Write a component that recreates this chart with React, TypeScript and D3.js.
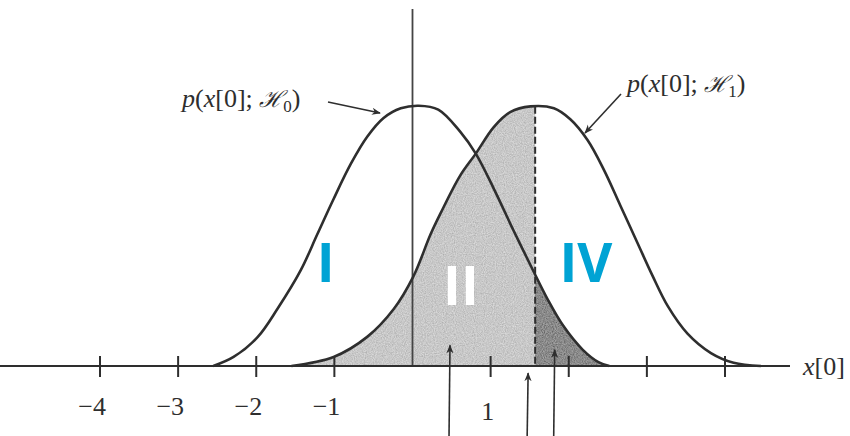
import React from "react";
import * as d3 from "d3";

// Density curves, sampled as [x[0], p] pairs
const h0Curve: [number, number][] = [
  [-2.55, 0], [-2.29, 0.014], [-1.98, 0.045], [-1.73, 0.088], [-1.43, 0.148],
  [-1.22, 0.203], [-1.01, 0.258], [-0.79, 0.312], [-0.58, 0.354], [-0.37, 0.383],
  [-0.15, 0.398], [0.08, 0.402], [0.33, 0.396], [0.61, 0.362], [0.81, 0.328],
  [1.04, 0.274], [1.29, 0.21], [1.55, 0.146], [1.73, 0.103], [1.93, 0.062],
  [2.18, 0.025], [2.38, 0.006], [2.52, 0],
];

const h1Curve: [number, number][] = [
  [-1.55, 0], [-1.01, 0.014], [-0.58, 0.045], [-0.24, 0.088], [0.01, 0.138],
  [0.23, 0.203], [0.36, 0.236], [0.61, 0.294], [0.81, 0.328], [1.04, 0.369],
  [1.25, 0.392], [1.51, 0.401], [1.81, 0.398], [2.02, 0.381], [2.24, 0.349],
  [2.45, 0.303], [2.66, 0.248], [2.88, 0.19], [3.07, 0.14], [3.27, 0.092],
  [3.52, 0.05], [3.82, 0.02], [4.11, 0.005], [4.46, 0],
];

const threshold = 1.57;

const tickValues = [-4, -3, -2, -1, 1, 2, 3, 4];
const tickLabelValues = [-4, -3, -2, -1, 1];
const tickLabelTexts = ["−4", "−3", "−2", "−1", "1"];

// Pointer arrows rising from below the axis: [x, tip height]
const pointerArrows: [number, number][] = [
  [0.48, 0.032],
  [1.48, -0.011],
  [1.82, 0.025],
];

const regionLabels = ["I", "II", "IV"];
const regionLabelX = [-1.11, 0.62, 2.22];
const regionLabelY = [0.129, 0.094, 0.129];
const regionLabelColors = ["#00a3d4", "#ffffff", "#00a3d4"];

const W = 850;
const H = 436;

export default function App() {
  const x = d3.scaleLinear().domain([-4, 4]).range([100, 725]);
  const y = d3.scaleLinear().domain([0, 0.4]).range([366, 107]);

  const curve = d3.curveCatmullRom.alpha(0.5);

  const line = d3
    .line<[number, number]>()
    .x((d) => x(d[0]))
    .y((d) => y(d[1]))
    .curve(curve);

  const area = d3
    .area<[number, number]>()
    .x((d) => x(d[0]))
    .y0(y(0))
    .y1((d) => y(d[1]))
    .curve(curve);

  const xt = x(threshold);
  const h1Interp = d3.scaleLinear().domain(h1Curve.map((d) => d[0])).range(h1Curve.map((d) => d[1]));
  const thresholdTop = y(h1Interp(threshold));

  const ink = "#2e2e2e";
  const serif = "'Liberation Serif', 'DejaVu Serif', serif";

  return (
    <svg
      width={W}
      height={H}
      viewBox={`0 0 ${W} ${H}`}
      style={{ position: "absolute", left: 0, top: 0, background: "#fff" }}
    >
      <defs>
        <clipPath id="leftOfT">
          <rect x={0} y={0} width={xt} height={H} />
        </clipPath>
        <clipPath id="rightOfT">
          <rect x={xt} y={0} width={W - xt} height={H} />
        </clipPath>
        <filter id="grain" x="0" y="0" width="100%" height="100%">
          <feTurbulence type="fractalNoise" baseFrequency="0.9" numOctaves={2} seed={3} result="n" />
          <feColorMatrix
            in="n"
            type="matrix"
            values="1 0 0 0 0  1 0 0 0 0  1 0 0 0 0  0 0 0 0 1"
            result="g"
          />
          <feComposite in="SourceGraphic" in2="g" operator="arithmetic" k1={0} k2={1} k3={0.4} k4={-0.2} result="mix" />
          <feComposite in="mix" in2="SourceGraphic" operator="in" />
        </filter>
        <marker id="head" viewBox="0 0 10 10" refX={9} refY={5} markerWidth={9} markerHeight={9} orient="auto-start-reverse" markerUnits="userSpaceOnUse">
          <path d="M0,1 L10,5 L0,9 L3,5 Z" fill={ink} />
        </marker>
      </defs>

      {/* miss region: under H1, left of threshold */}
      <path d={area(h1Curve) ?? ""} fill="#c8c8c8" clipPath="url(#leftOfT)" filter="url(#grain)" />
      {/* false-alarm region: under H0, right of threshold */}
      <path d={area(h0Curve) ?? ""} fill="#8a8a8a" clipPath="url(#rightOfT)" filter="url(#grain)" />

      {/* vertical line at origin */}
      <line x1={x(0)} x2={x(0)} y1={9} y2={y(0)} stroke="#444" strokeWidth={1.8} />

      {/* threshold */}
      <line x1={xt} x2={xt} y1={thresholdTop} y2={y(0)} stroke={ink} strokeWidth={2} strokeDasharray="7,3" />

      {/* density curves */}
      <path d={line(h0Curve) ?? ""} fill="none" stroke={ink} strokeWidth={2.6} />
      <path d={line(h1Curve) ?? ""} fill="none" stroke={ink} strokeWidth={2.6} />

      {/* axis */}
      <line x1={0} x2={790} y1={y(0)} y2={y(0)} stroke={ink} strokeWidth={2.2} />
      {tickValues.map((v) => (
        <line key={v} x1={x(v)} x2={x(v)} y1={y(0) - 10} y2={y(0) + 11} stroke={ink} strokeWidth={2} />
      ))}
      {tickLabelValues.map((v, i) => (
        <text
          key={v}
          x={v < 0 ? x(v) + 6 : x(v) - 3}
          y={v < 0 ? 415 : 420}
          textAnchor={v < 0 ? "end" : "middle"}
          fontFamily={serif}
          fontSize={26}
          fill={ink}
        >
          {tickLabelTexts[i]}
        </text>
      ))}
      <text x={803} y={375} fontFamily={serif} fontSize={26} fill={ink}>
        <tspan fontStyle="italic">x</tspan>
        <tspan>[0]</tspan>
      </text>

      {/* pointer arrows from below */}
      {pointerArrows.map(([v, t], i) => (
        <line key={i} x1={x(v) - 1} x2={x(v)} y1={H + 2} y2={y(t)} stroke={ink} strokeWidth={1.6} markerEnd="url(#head)" />
      ))}

      {/* curve labels */}
      <text x={182} y={107} fontFamily={serif} fontSize={26} fill={ink}>
        <tspan fontStyle="italic">p</tspan>
        <tspan>(</tspan>
        <tspan fontStyle="italic">x</tspan>
        <tspan>[0]; </tspan>
        <tspan fontStyle="italic" fontFamily="'DejaVu Serif', serif" fontSize={23}>ℋ</tspan>
        <tspan fontSize={17} dy={5}>0</tspan>
        <tspan dy={-5}>)</tspan>
      </text>
      <line x1={328} y1={102} x2={380} y2={113} stroke={ink} strokeWidth={1.6} markerEnd="url(#head)" />

      <text x={627} y={92} fontFamily={serif} fontSize={26} fill={ink}>
        <tspan fontStyle="italic">p</tspan>
        <tspan>(</tspan>
        <tspan fontStyle="italic">x</tspan>
        <tspan>[0]; </tspan>
        <tspan fontStyle="italic" fontFamily="'DejaVu Serif', serif" fontSize={23}>ℋ</tspan>
        <tspan fontSize={17} dy={5}>1</tspan>
        <tspan dy={-5}>)</tspan>
      </text>
      <line x1={621} y1={94} x2={585} y2={133} stroke={ink} strokeWidth={1.6} markerEnd="url(#head)" />

      {/* region labels */}
      {regionLabels.map((t, i) => (
        <text
          key={t}
          x={x(regionLabelX[i])}
          y={y(regionLabelY[i])}
          textAnchor="middle"
          fontFamily="'Open Sans', 'Liberation Sans', sans-serif"
          fontWeight={700}
          fontSize={54}
          fill={regionLabelColors[i]}
        >
          {t}
        </text>
      ))}
    </svg>
  );
}
